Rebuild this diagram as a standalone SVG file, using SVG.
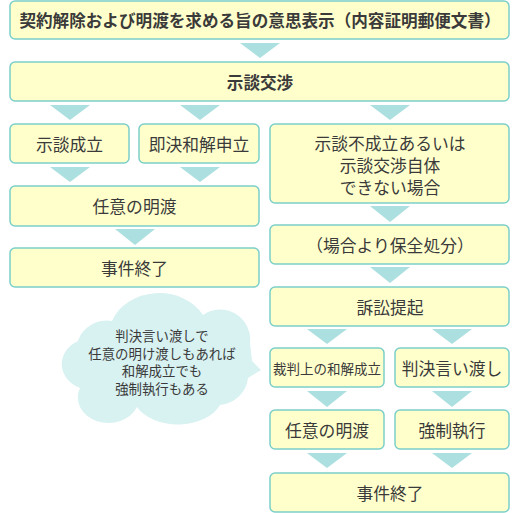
<svg xmlns="http://www.w3.org/2000/svg" width="520" height="513" viewBox="0 0 520 513">
<style>
.box{fill:#FFFFCC;stroke:#7CCFC9;stroke-width:1.5}
.arr{fill:#ACDFDF}
text{font-family:"Noto Sans CJK JP","Noto Sans",sans-serif;fill:#3a3a3a;text-anchor:middle;dominant-baseline:central;font-size:16.8px}
.b{font-weight:bold;font-size:16.6px}
.s{font-size:13.5px}
.c{font-size:13.4px}
</style>
<rect width="520" height="513" fill="#fff"/>
<g id="connectors">
<polygon class="arr" points="240,43 280,43 260,58"/>
<polygon class="arr" points="50,105 90,105 70,120"/>
<polygon class="arr" points="180,105 220,105 200,120"/>
<polygon class="arr" points="370,105 410,105 390,120"/>
<polygon class="arr" points="50,167 90,167 70,182"/>
<polygon class="arr" points="180,167 220,167 200,182"/>
<polygon class="arr" points="115,229 155,229 135,245"/>
<polygon class="arr" points="370,206 410,206 390,222"/>
<polygon class="arr" points="370,267 410,267 390,283"/>
<polygon class="arr" points="307,329 347,329 327,344"/>
<polygon class="arr" points="432,329 472,329 452,344"/>
<polygon class="arr" points="307,391 347,391 327,407"/>
<polygon class="arr" points="432,391 472,391 452,407"/>
<polygon class="arr" points="307,453 347,453 327,468"/>
<polygon class="arr" points="432,453 472,453 452,468"/>
</g>
<g id="n1"><rect class="box" x="10" y="1" width="499" height="38" rx="5"/><text class="b" x="260" y="20">契約解除および明渡を求める旨の意思表示（内容証明郵便文書）</text></g>
<g id="n2"><rect class="box" x="10" y="62" width="499" height="39" rx="5"/><text class="b" x="260" y="81.5">示談交渉</text></g>
<g id="n3"><rect class="box" x="10" y="124" width="119" height="39" rx="5"/><text x="69.5" y="143.5">示談成立</text></g>
<g id="n4"><rect class="box" x="139" y="124" width="120" height="39" rx="5"/><text x="199" y="143.5">即決和解申立</text></g>
<g id="n5"><rect class="box" x="270" y="124" width="239" height="79" rx="5"/><text x="390" y="143">示談不成立あるいは</text><text x="390" y="165">示談交渉自体</text><text x="390" y="187">できない場合</text></g>
<g id="n6"><rect class="box" x="10" y="186" width="249" height="40" rx="5"/><text x="134.5" y="206">任意の明渡</text></g>
<g id="n7"><rect class="box" x="10" y="248" width="249" height="39" rx="5"/><text x="134.5" y="267.5">事件終了</text></g>
<g id="n8"><rect class="box" x="270" y="225" width="239" height="39" rx="5"/><text x="390" y="244.5">（場合より保全処分）</text></g>
<g id="n9"><rect class="box" x="270" y="287" width="239" height="39" rx="5"/><text x="390" y="306.5">訴訟提起</text></g>
<g id="n10"><rect class="box" x="270" y="348" width="114" height="39" rx="5"/><text class="s" x="327" y="367.5">裁判上の和解成立</text></g>
<g id="n11"><rect class="box" x="395" y="348" width="114" height="39" rx="5"/><text x="452" y="367.5">判決言い渡し</text></g>
<g id="n12"><rect class="box" x="270" y="410" width="114" height="39" rx="5"/><text x="327" y="429.5">任意の明渡</text></g>
<g id="n13"><rect class="box" x="395" y="410" width="114" height="39" rx="5"/><text x="452" y="429.5">強制執行</text></g>
<g id="n14"><rect class="box" x="270" y="473" width="239" height="39" rx="5"/><text x="390" y="492.5">事件終了</text></g>
<g id="note">
<path fill="#D8F1F1" d="M 78 341 A 30 28 0 0 1 112 321 A 50 42 0 0 1 203 315 A 30 30 0 0 1 250 343 L 252 361 L 261 370 L 248 378 A 32 30 0 0 1 220 405 A 45 30 0 0 1 137 407 A 30 25 0 0 1 80 388 A 30 26 0 0 1 78 341 Z"/>
<text class="c" x="162" y="335">判決言い渡しで</text>
<text class="c" x="162" y="352.5">任意の明け渡しもあれば</text>
<text class="c" x="162" y="370">和解成立でも</text>
<text class="c" x="162" y="387.5">強制執行もある</text>
</g>
</svg>
